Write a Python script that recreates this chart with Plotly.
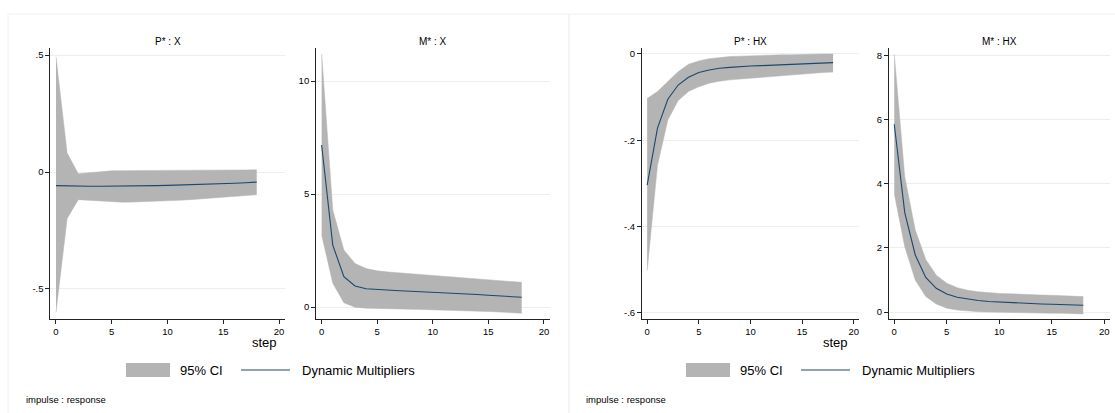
import plotly.graph_objects as go

# ---------------- data ----------------
steps = list(range(19))

titles = ["P* : X", "M* : X", "P* : HX", "M* : HX"]

p_x_irf = [-0.058, -0.060, -0.061, -0.061, -0.061, -0.061, -0.060, -0.060, -0.059, -0.058,
           -0.057, -0.056, -0.055, -0.053, -0.052, -0.050, -0.048, -0.046, -0.043]
p_x_hi = [0.493, 0.081, -0.007, -0.003, 0.002, 0.005, 0.006, 0.006, 0.006, 0.006,
          0.006, 0.007, 0.007, 0.007, 0.008, 0.008, 0.009, 0.009, 0.010]
p_x_lo = [-0.600, -0.199, -0.118, -0.121, -0.125, -0.128, -0.129, -0.128, -0.127, -0.125,
          -0.123, -0.121, -0.118, -0.115, -0.112, -0.108, -0.105, -0.101, -0.097]

m_x_irf = [7.17, 2.74, 1.34, 0.93, 0.81, 0.77, 0.74, 0.72, 0.70, 0.68,
           0.66, 0.64, 0.61, 0.58, 0.55, 0.52, 0.49, 0.46, 0.43]
m_x_hi = [11.2, 4.29, 2.52, 1.93, 1.70, 1.60, 1.55, 1.51, 1.47, 1.44,
          1.41, 1.37, 1.34, 1.30, 1.26, 1.22, 1.17, 1.13, 1.09]
m_x_lo = [3.19, 1.05, 0.19, -0.01, -0.05, -0.07, -0.08, -0.09, -0.10, -0.11,
          -0.12, -0.13, -0.15, -0.16, -0.18, -0.20, -0.22, -0.25, -0.28]

p_hx_irf = [-0.304, -0.172, -0.105, -0.072, -0.054, -0.043, -0.037, -0.033, -0.031, -0.029,
            -0.028, -0.027, -0.026, -0.025, -0.024, -0.023, -0.022, -0.021, -0.020]
p_hx_hi = [-0.103, -0.087, -0.064, -0.041, -0.024, -0.016, -0.011, -0.008, -0.006, -0.005,
           -0.004, -0.003, -0.003, -0.002, -0.002, -0.001, -0.001, 0.000, 0.000]
p_hx_lo = [-0.503, -0.258, -0.153, -0.108, -0.087, -0.076, -0.068, -0.063, -0.060, -0.058,
           -0.057, -0.055, -0.053, -0.051, -0.049, -0.047, -0.045, -0.043, -0.042]

m_hx_irf = [5.86, 3.10, 1.78, 1.08, 0.74, 0.56, 0.46, 0.40, 0.36, 0.33,
            0.31, 0.29, 0.28, 0.27, 0.25, 0.24, 0.23, 0.22, 0.21]
m_hx_hi = [8.05, 4.22, 2.56, 1.64, 1.15, 0.90, 0.76, 0.68, 0.63, 0.60,
           0.58, 0.57, 0.55, 0.54, 0.53, 0.52, 0.50, 0.49, 0.48]
m_hx_lo = [3.70, 2.04, 1.00, 0.48, 0.25, 0.12, 0.06, 0.03, 0.01, 0.00,
           -0.01, -0.02, -0.02, -0.03, -0.03, -0.04, -0.04, -0.05, -0.06]

x_ticks = [0, 5, 10, 15, 20]
y_ticks = [[-0.5, 0, 0.5], [0, 5, 10], [-0.6, -0.4, -0.2, 0], [0, 2, 4, 6, 8]]
y_ticktext = [["-.5", "0", ".5"], ["0", "5", "10"], ["-.6", "-.4", "-.2", "0"],
              ["0", "2", "4", "6", "8"]]

legend_labels = ["95% CI", "Dynamic Multipliers"]
x_title = "step"
note = "impulse : response"

# ---------------- layout helpers ----------------
W, H = 1115, 413
FONT = "Liberation Sans, Arial, sans-serif"
CI_COLOR = "#b4b4b4"
LINE_COLOR = "#1a476f"
GRID = "#e9f0f1"
FRAME = "#edf1f2"


def fx(p):
    return p / W


def fy(p):
    return 1 - p / H


series = [(p_x_lo, p_x_hi, p_x_irf), (m_x_lo, m_x_hi, m_x_irf),
          (p_hx_lo, p_hx_hi, p_hx_irf), (m_hx_lo, m_hx_hi, m_hx_irf)]
xdoms = [(50.4, 284.6), (316.1, 549.5), (642.0, 858.9), (889.0, 1109.5)]
yranges = [(-0.627, 0.529), (-0.518, 11.45), (-0.614, 0.0132), (-0.209, 8.23)]
ytop, ybot = 48.3, 318.7

fig = go.Figure()
layout = dict(
    width=W, height=H,
    margin=dict(l=0, r=0, t=0, b=0),
    paper_bgcolor="white", plot_bgcolor="white",
    showlegend=False,
    font=dict(family=FONT, color="black"),
)

annotations = []
shapes = []

for i, (lo, hi, irf) in enumerate(series):
    n = i + 1
    xa = "x" if n == 1 else f"x{n}"
    ya = "y" if n == 1 else f"y{n}"
    fig.add_trace(go.Scatter(x=steps, y=lo, mode="lines", line=dict(color=CI_COLOR, width=0.5),
                             xaxis=xa, yaxis=ya, hoverinfo="skip"))
    fig.add_trace(go.Scatter(x=steps, y=hi, mode="lines", line=dict(color=CI_COLOR, width=0.5),
                             fill="tonexty", fillcolor=CI_COLOR, xaxis=xa, yaxis=ya,
                             name=legend_labels[0]))
    fig.add_trace(go.Scatter(x=steps, y=irf, mode="lines", line=dict(color=LINE_COLOR, width=1.1),
                             xaxis=xa, yaxis=ya, name=legend_labels[1]))
    xkey = "xaxis" if n == 1 else f"xaxis{n}"
    ykey = "yaxis" if n == 1 else f"yaxis{n}"
    layout[xkey] = dict(
        domain=[fx(xdoms[i][0]), fx(xdoms[i][1])], anchor=ya, range=[-0.5, 20.5],
        tickmode="array", tickvals=x_ticks, ticktext=[str(t) for t in x_ticks],
        showgrid=False, zeroline=False, showline=True, linecolor="#222", linewidth=1,
        ticks="outside", ticklen=4, tickcolor="#222", tickwidth=1,
        tickfont=dict(size=9.5, family=FONT, color="black"),
    )
    layout[ykey] = dict(
        domain=[fy(ybot), fy(ytop)], anchor=xa, range=list(yranges[i]),
        tickmode="array", tickvals=y_ticks[i], ticktext=y_ticktext[i],
        showgrid=True, gridcolor=GRID, gridwidth=1, zeroline=False,
        showline=True, linecolor="#222", linewidth=1,
        ticks="outside", ticklen=4, tickcolor="#222", tickwidth=1,
        tickfont=dict(size=9.5, family=FONT, color="black"),
    )
    annotations.append(dict(
        text=titles[i], xref="paper", yref="paper",
        x=fx((xdoms[i][0] + xdoms[i][1]) / 2), y=fy(41.7),
        xanchor="center", yanchor="middle", showarrow=False,
        font=dict(size=10, family=FONT, color="black"),
    ))

# graph frames, x titles, legends, notes for the two combined graphs
LEG_Y = 370
for off, (fx0, fx1), stepx in [(0, (8, 569), 264), (560, (569, 1125), 835)]:
    shapes.append(dict(type="rect", xref="paper", yref="paper",
                       x0=fx(fx0), x1=fx(fx1), y0=fy(425), y1=fy(14),
                       line=dict(color=FRAME, width=1), fillcolor="rgba(0,0,0,0)", layer="below"))
    annotations.append(dict(text=x_title, xref="paper", yref="paper", x=fx(stepx), y=fy(342),
                            xanchor="center", yanchor="middle", showarrow=False,
                            font=dict(size=13, family=FONT, color="black")))
    # legend key: CI box
    shapes.append(dict(type="rect", xref="paper", yref="paper",
                       x0=fx(126 + off), x1=fx(170 + off), y0=fy(LEG_Y + 7), y1=fy(LEG_Y - 7),
                       line=dict(color=CI_COLOR, width=0), fillcolor=CI_COLOR))
    annotations.append(dict(text=legend_labels[0], xref="paper", yref="paper",
                            x=fx(178 + off), y=fy(LEG_Y), xanchor="left", yanchor="middle",
                            showarrow=False, font=dict(size=13, family=FONT, color="black")))
    shapes.append(dict(type="line", xref="paper", yref="paper",
                       x0=fx(241 + off), x1=fx(290 + off), y0=fy(LEG_Y), y1=fy(LEG_Y),
                       line=dict(color=LINE_COLOR, width=1.1)))
    annotations.append(dict(text=legend_labels[1], xref="paper", yref="paper",
                            x=fx(300 + off), y=fy(LEG_Y), xanchor="left", yanchor="middle",
                            showarrow=False, font=dict(size=13, family=FONT, color="black")))
    annotations.append(dict(text=note, xref="paper", yref="paper",
                            x=fx(24 + off), y=fy(399), xanchor="left", yanchor="middle",
                            showarrow=False, font=dict(size=9.5, family=FONT, color="black")))

layout["annotations"] = annotations
layout["shapes"] = shapes
fig.update_layout(**layout)

fig.write_html("out.html")
